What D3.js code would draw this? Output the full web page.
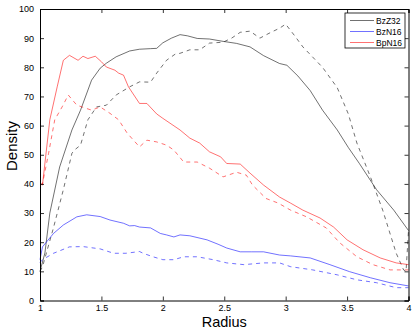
<!DOCTYPE html>
<html>
  <head>
    <meta http-equiv="Content-Type" content="text/html;charset=utf-8">
    <title>Density vs radius</title>
    <script src="https://d3js.org/d3.v7.min.js"></script>
    <style>
      html, body { margin: 0; padding: 0; background: #fff; }
      text { font-family: "Liberation Sans", Arial, sans-serif; fill: #000; }
      .line { fill: none; stroke-width: 0.8px; }
    </style>
  </head>
  <body>
<script type="text/javascript">

var xTicks = [1, 1.5, 2, 2.5, 3, 3.5, 4];
var yTicks = [0, 10, 20, 30, 40, 50, 60, 70, 80, 90, 100];

// BzZ32
var bzz32X = [1, 1.04, 1.08, 1.16, 1.26, 1.33, 1.42, 1.49, 1.54, 1.62, 1.73, 1.81, 1.9, 1.95, 2.0, 2.07, 2.14, 2.2, 2.28, 2.38, 2.49, 2.6, 2.71, 2.82, 2.95, 3.01, 3.1, 3.2, 3.3, 3.42, 3.51, 3.6, 3.74, 3.88, 4.0];
var bzz32Y = [10, 16.3, 30, 45.8, 58.5, 65.3, 75.6, 79.7, 81.4, 83.6, 85.6, 86.2, 86.4, 86.5, 88.4, 90, 91.2, 90.8, 89.9, 89.7, 88.9, 88.2, 87, 84, 81.3, 80.7, 77, 72, 65.3, 58.5, 52.5, 47, 38, 31, 24];
var bzz32DX = [1, 1.02, 1.11, 1.19, 1.26, 1.28, 1.33, 1.39, 1.46, 1.54, 1.62, 1.73, 1.81, 1.9, 1.95, 2.03, 2.1, 2.14, 2.22, 2.3, 2.38, 2.49, 2.56, 2.63, 2.71, 2.79, 2.88, 2.95, 3.0, 3.07, 3.14, 3.3, 3.42, 3.51, 3.58, 3.69, 3.79, 3.9, 3.96, 3.98, 4.0];
var bzz32DY = [10, 11.5, 25, 38, 50.5, 51.6, 53.3, 62, 66.4, 67, 70.5, 73.3, 75, 74.9, 78, 82.4, 84.5, 84.8, 86, 86, 88.3, 88.6, 90, 92, 92.4, 90, 92, 93.4, 94.8, 91, 87, 80, 73, 64, 54, 42.4, 31, 16.2, 10.5, 10, 24];

// BzN16
var bzn16X = [1, 1.02, 1.11, 1.19, 1.3, 1.38, 1.49, 1.57, 1.68, 1.73, 1.77, 1.81, 1.9, 1.98, 2.03, 2.09, 2.14, 2.22, 2.36, 2.45, 2.52, 2.63, 2.72, 2.82, 2.95, 3.04, 3.2, 3.36, 3.52, 3.69, 3.85, 4.0];
var bzn16Y = [14, 18.4, 23, 25.9, 28.7, 29.4, 28.8, 27.6, 26.5, 25.6, 25.7, 25.2, 24.9, 23, 22.5, 21.8, 22.5, 22.2, 20.8, 19.3, 18, 16.7, 16.7, 16.7, 15.6, 15.3, 14.6, 12.3, 9.9, 7.8, 6.1, 5];
var bzn16DX = [1, 1.02, 1.11, 1.24, 1.35, 1.49, 1.6, 1.7, 1.81, 1.84, 1.92, 2.0, 2.09, 2.17, 2.28, 2.41, 2.52, 2.66, 2.82, 2.95, 3.04, 3.22, 3.42, 3.58, 3.74, 3.9, 4.0];
var bzn16DY = [13, 14, 16.2, 18.4, 18.5, 17.7, 16.2, 16.2, 16.8, 16.2, 15, 14, 14, 15, 15, 14, 12.9, 12.3, 12.9, 12.9, 11.6, 10.5, 8.8, 7.1, 6.1, 4.4, 4.4];

// BpN16
var bpn16X = [1, 1.02, 1.08, 1.14, 1.19, 1.24, 1.31, 1.35, 1.39, 1.45, 1.5, 1.54, 1.61, 1.64, 1.68, 1.72, 1.81, 1.87, 1.95, 2.0, 2.14, 2.22, 2.3, 2.38, 2.47, 2.52, 2.63, 2.71, 2.82, 2.95, 3.04, 3.14, 3.28, 3.39, 3.5, 3.63, 3.77, 3.9, 4.0];
var bpn16Y = [40, 39.6, 62, 73.3, 82.4, 84.1, 82.4, 83.8, 83, 83.8, 81.9, 80.1, 79, 78, 77.3, 73.3, 67.6, 67.6, 64, 62.5, 58.5, 55.7, 54, 51, 49.3, 47, 46.8, 43.7, 39.6, 35.5, 33.4, 31, 28.3, 25.2, 20.8, 17.4, 14.6, 12.9, 12.3];
var bpn16DX = [1, 1.02, 1.07, 1.12, 1.18, 1.23, 1.3, 1.37, 1.42, 1.49, 1.57, 1.64, 1.71, 1.81, 1.87, 1.95, 2.03, 2.09, 2.17, 2.28, 2.38, 2.49, 2.6, 2.68, 2.73, 2.84, 2.94, 3.04, 3.17, 3.33, 3.44, 3.58, 3.71, 3.85, 4.0];
var bpn16DY = [40, 40, 50.5, 62, 66.4, 70.5, 67, 66, 65.3, 66.4, 64.2, 62, 57.4, 52.7, 55, 54.4, 53.3, 51.6, 47.5, 47.5, 45.4, 42.4, 44, 43, 39.6, 35, 33.4, 31, 28.7, 24.9, 19.8, 15, 12.3, 10.5, 10.5];

var series = [
  { name: "BzZ32", color: "#000000", xs: bzz32X, ys: bzz32Y, dash: null, legend: true },
  { name: "BzZ32", color: "#000000", xs: bzz32DX, ys: bzz32DY, dash: "4,4", legend: false },
  { name: "BzN16", color: "#0000ff", xs: bzn16X, ys: bzn16Y, dash: null, legend: true },
  { name: "BzN16", color: "#0000ff", xs: bzn16DX, ys: bzn16DY, dash: "4,4", legend: false },
  { name: "BpN16", color: "#ff0000", xs: bpn16X, ys: bpn16Y, dash: null, legend: true },
  { name: "BpN16", color: "#ff0000", xs: bpn16DX, ys: bpn16DY, dash: "4,4", legend: false }
];

var width = 415, height = 331;
var mLeft = 40, mRight = 408.5, mTop = 9, mBottom = 300.5;

var svg = d3.select("body").append("svg")
  .attr("width", width)
  .attr("height", height);

var x = d3.scaleLinear().domain([1, 4]).range([mLeft, mRight]);
var y = d3.scaleLinear().domain([0, 100]).range([mBottom, mTop]);

var lineFunction = d3.line()
  .x(function(d) { return x(d[0]); })
  .y(function(d) { return y(d[1]); });

var plot = svg.append("g");

series.forEach(function(s) {
  var pts = s.xs.map(function(v, i) { return [v, s.ys[i]]; });
  plot.append("path")
    .attr("class", "line")
    .attr("d", lineFunction(pts))
    .style("stroke", s.color)
    .style("stroke-opacity", 0.7)
    .attr("stroke-dasharray", s.dash);
});

// axes, ticks inward on all four sides
var tickLen = 4;
svg.append("g")
  .attr("transform", "translate(0," + mBottom + ")")
  .call(d3.axisBottom(x).tickValues(xTicks).tickSize(-tickLen).tickPadding(4).tickFormat(d3.format("")));
svg.append("g")
  .attr("transform", "translate(0," + mTop + ")")
  .call(d3.axisTop(x).tickValues(xTicks).tickSize(-tickLen).tickFormat(""));
svg.append("g")
  .attr("transform", "translate(" + mLeft + ",0)")
  .call(d3.axisLeft(y).tickValues(yTicks).tickSize(-tickLen).tickPadding(6));
svg.append("g")
  .attr("transform", "translate(" + mRight + ",0)")
  .call(d3.axisRight(y).tickValues(yTicks).tickSize(-tickLen).tickFormat(""));

svg.selectAll(".domain").attr("stroke", "#000").attr("stroke-width", 1);
svg.selectAll(".tick line").attr("stroke", "#000").attr("stroke-width", 0.8);
svg.selectAll(".tick text").style("font-size", "9px");

// labels
svg.append("text")
  .attr("x", (mLeft + mRight) / 2)
  .attr("y", 326.5)
  .attr("text-anchor", "middle")
  .style("font-size", "14.5px")
  .text("Radius");
svg.append("text")
  .attr("transform", "translate(17,146) rotate(-90)")
  .attr("text-anchor", "middle")
  .style("font-size", "15px")
  .text("Density");

// legend
var lg = svg.append("g").attr("transform", "translate(345,13)");
lg.append("rect")
  .attr("width", 60).attr("height", 35)
  .attr("fill", "#fff").attr("stroke", "#000").attr("stroke-width", 0.8);
series.filter(function(s) { return s.legend; }).forEach(function(s, i) {
  var yy = 7.5 + i * 11;
  lg.append("line")
    .attr("x1", 5).attr("x2", 29).attr("y1", yy).attr("y2", yy)
    .style("stroke", s.color).style("stroke-width", 0.8).style("stroke-opacity", 0.7);
  lg.append("text")
    .attr("x", 31).attr("y", yy + 3)
    .style("font-size", "8.5px")
    .text(s.name);
});

</script>
  </body>
</html>
